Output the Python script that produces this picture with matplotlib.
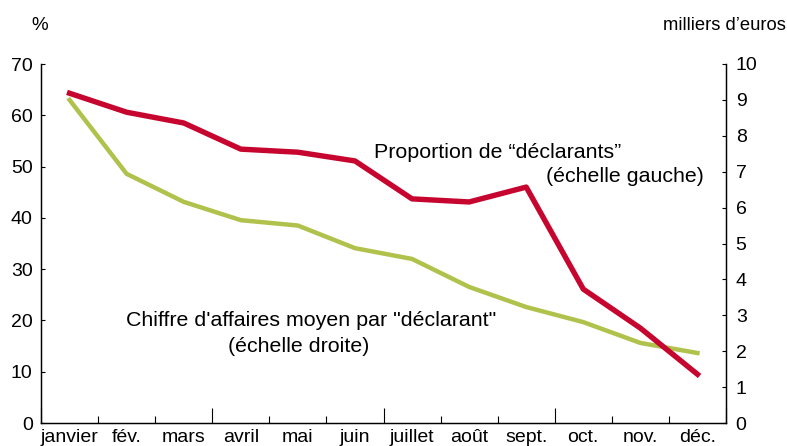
import matplotlib.pyplot as plt

plt.rcParams['font.family'] = ['Liberation Sans', 'DejaVu Sans']

months = ['janvier', 'fév.', 'mars', 'avril', 'mai', 'juin',
          'juillet', 'août', 'sept.', 'oct.', 'nov.', 'déc.']
proportion = [64.3, 60.6, 58.5, 53.4, 52.8, 51.1, 43.7, 43.1, 46.0, 26.1, 18.5, 9.5]
chiffre = [9.0, 6.94, 6.16, 5.65, 5.5, 4.87, 4.57, 3.79, 3.23, 2.81, 2.23, 1.95]

red = '#C6062F'
green = '#B0C24C'

fig = plt.figure(figsize=(7.87, 4.46), dpi=100)
ax = fig.add_axes([41 / 787, 23 / 446, 685 / 787, 359 / 446])
ax2 = ax.twinx()

x = [i + 0.5 for i in range(len(months))]
ax2.plot(x, chiffre, color=green, lw=3.2, solid_joinstyle='round')
ax.plot(x, proportion, color=red, lw=3.9, solid_joinstyle='round')
ax.set_zorder(ax2.get_zorder() + 1)
ax.patch.set_visible(False)

ax.set_xlim(0, 12)
ax.set_ylim(0, 70)
ax2.set_ylim(0, 10)
ax.set_yticks(range(0, 71, 10))
ax2.set_yticks(range(0, 11))

ax.set_xticks([0, 3, 6, 9, 12])
ax.set_xticks([1, 2, 4, 5, 7, 8, 10, 11], minor=True)
ax.tick_params(axis='x', which='major', direction='in', length=11, width=0.8, labelbottom=False)
ax.tick_params(axis='x', which='minor', direction='in', length=5, width=0.8)
ax.tick_params(axis='y', direction='in', length=3, width=0.8, labelsize=14, pad=6)
ax2.tick_params(axis='y', direction='in', length=3, width=0.8, labelsize=14, pad=7)

for a in (ax, ax2):
    a.spines['top'].set_visible(False)
    for s in ('left', 'right', 'bottom'):
        a.spines[s].set_linewidth(0.9)

trans = ax.get_xaxis_transform()
for xi, m in zip(x, months):
    ax.text(xi, -0.04, m, transform=trans, ha='center', va='center', fontsize=14)

fig.text(40 / 787, 1 - 26 / 446, '%', ha='center', va='center', fontsize=13.5)
fig.text(786 / 787, 1 - 26 / 446, 'milliers d\u2019euros', ha='right', va='center', fontsize=13.2)

ax.text((374 - 41) / 685, (423 - 152) / 359, 'Proportion de \u201cdéclarants\u201d',
        transform=ax.transAxes, ha='left', va='center', fontsize=15.4)
ax.text((704 - 41) / 685, (423 - 177) / 359, '(échelle gauche)',
        transform=ax.transAxes, ha='right', va='center', fontsize=15.4)
ax.text((311 - 41) / 685, (423 - 320) / 359, 'Chiffre d\'affaires moyen par "déclarant"',
        transform=ax.transAxes, ha='center', va='center', fontsize=15.4)
ax.text((299 - 41) / 685, (423 - 346) / 359, '(échelle droite)',
        transform=ax.transAxes, ha='center', va='center', fontsize=15.4)

fig.savefig('out.png', dpi=100)
